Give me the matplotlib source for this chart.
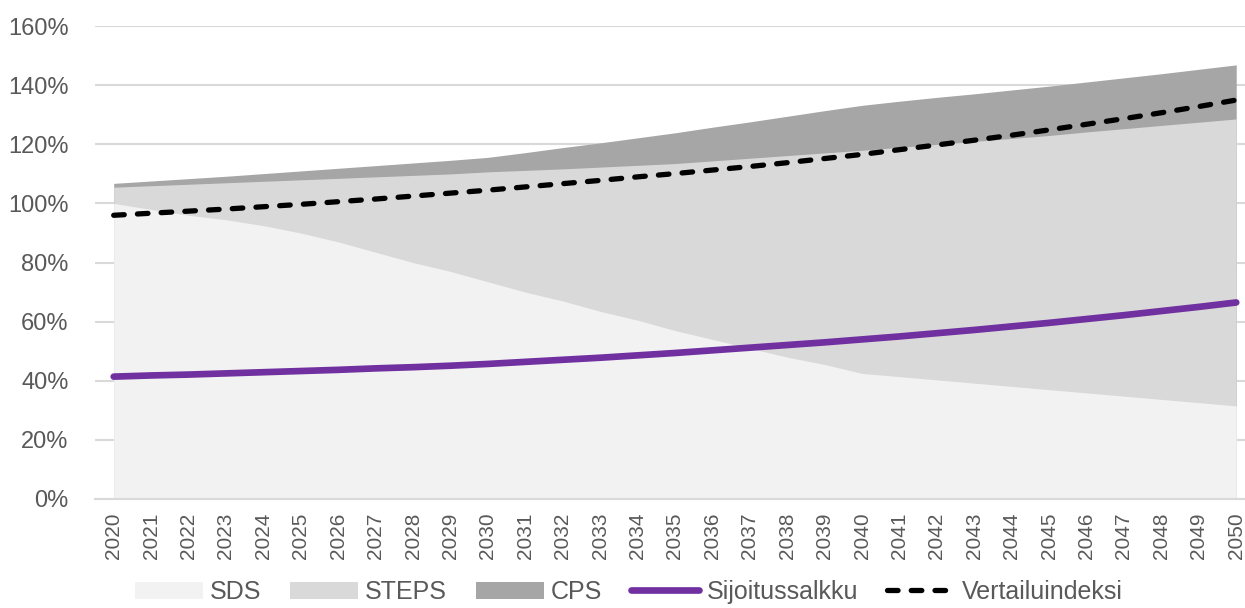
import numpy as np
import matplotlib.pyplot as plt
from matplotlib.patches import Patch
from matplotlib.lines import Line2D

# Skenaariot ja salkun/indeksin kehitys vuosittain (% tasosta)
years = list(range(2020, 2051))

sds = [100.0, 98.0, 96.0, 94.5, 92.5, 90.0, 87.0, 83.5, 80.0, 77.0, 73.5,
       70.0, 67.0, 63.5, 60.5, 57.0, 54.0, 51.0, 48.0, 45.5, 42.5,
       41.4, 40.3, 39.2, 38.1, 37.0, 35.9, 34.8, 33.7, 32.6, 31.5]

steps = [105.5, 106.0, 106.5, 107.0, 107.5, 108.0, 108.5, 109.0, 109.5, 110.0, 110.7,
         111.2, 111.7, 112.3, 112.9, 113.5, 114.4, 115.3, 116.2, 117.1, 118.0,
         119.0, 120.0, 121.0, 122.0, 123.0, 124.2, 125.3, 126.4, 127.5, 128.6]

cps = [106.8, 107.6, 108.4, 109.2, 110.1, 111.0, 111.9, 112.8, 113.7, 114.6, 115.6,
       117.2, 118.9, 120.5, 122.2, 123.9, 125.8, 127.6, 129.5, 131.4, 133.2,
       134.6, 135.9, 137.1, 138.4, 139.7, 141.1, 142.5, 143.9, 145.4, 146.9]

salkku = [41.4, 41.8, 42.1, 42.5, 42.9, 43.3, 43.7, 44.2, 44.6, 45.1, 45.7,
          46.4, 47.1, 47.8, 48.6, 49.4, 50.3, 51.2, 52.1, 53.0, 54.0,
          55.0, 56.1, 57.2, 58.4, 59.6, 60.9, 62.2, 63.6, 65.0, 66.5]

indeksi = [96.0, 96.7, 97.4, 98.1, 98.9, 99.7, 100.6, 101.5, 102.5, 103.5, 104.5,
           105.6, 106.7, 107.8, 109.0, 110.1, 111.3, 112.5, 113.8, 115.2, 116.6,
           118.2, 119.8, 121.4, 123.1, 124.9, 126.8, 128.7, 130.7, 132.8, 135.0]

yticks = [0, 20, 40, 60, 80, 100, 120, 140, 160]

plt.rcParams['font.family'] = ['Liberation Sans', 'DejaVu Sans']
txt = '#595959'
grid = '#D9D9D9'

fig = plt.figure(figsize=(12.45, 6.08), dpi=100)
ax = fig.add_axes([0.0763, 0.1793, 0.9317, 0.7777])

# päällekkäiset alueet, isoin taakse
ax.fill_between(years, 0, cps, color='#A6A6A6', lw=0, zorder=2)
ax.fill_between(years, 0, steps, color='#D9D9D9', lw=0, zorder=3)
ax.fill_between(years, 0, sds, color='#F2F2F2', lw=0, zorder=4)

ax.plot(years, salkku, color='#7030A0', lw=4.8, solid_capstyle='round', zorder=5)
ax.plot(years, indeksi, color='black', lw=3.8, dashes=(2.0, 2.5),
        dash_capstyle='round', zorder=6)

ax.set_xlim(2019.5, 2050.5)
ax.set_ylim(0, 160)
ax.set_yticks(yticks)
ax.set_yticklabels([f'{v}%' for v in yticks])
ax.set_xticks(years)
ax.set_xticklabels([str(y) for y in years], rotation=90)

ax.grid(axis='y', color=grid, lw=1.5, zorder=1)
ax.set_axisbelow(True)
for s in ['top', 'right', 'left']:
    ax.spines[s].set_visible(False)
ax.spines['bottom'].set_color(grid)
ax.spines['bottom'].set_linewidth(1.5)
ax.spines['bottom'].set_zorder(7)

ax.tick_params(axis='y', length=0, pad=19, labelsize=17, labelcolor=txt)
ax.tick_params(axis='x', length=0, pad=10, labelsize=15, labelcolor=txt)

handles = [
    Patch(facecolor='#F2F2F2', label='SDS'),
    Patch(facecolor='#D9D9D9', label='STEPS'),
    Patch(facecolor='#A6A6A6', label='CPS'),
    Line2D([0], [0], color='#7030A0', lw=4.8, solid_capstyle='round', label='Sijoitussalkku'),
    Line2D([0], [0], color='black', lw=3.8, dashes=(2.0, 2.5), dash_capstyle='round',
           label='Vertailuindeksi'),
]
leg = fig.legend(handles=handles, loc='center', bbox_to_anchor=(0.505, 0.026), ncol=5,
                 frameon=False, fontsize=18, handlelength=2.72, handletextpad=0.28,
                 columnspacing=1.16, labelcolor=txt, borderpad=0.1)

fig.savefig('out.png', dpi=100)
